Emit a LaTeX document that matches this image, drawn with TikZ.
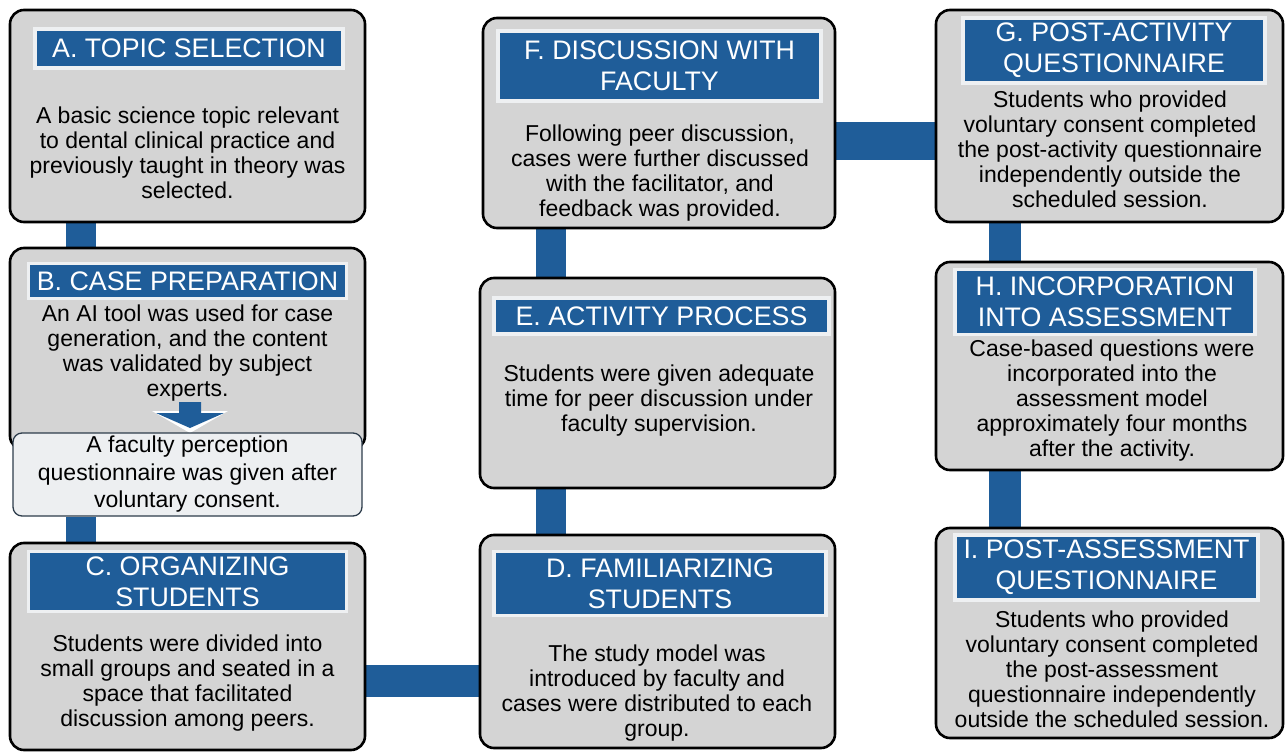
\documentclass[tikz,border=0pt]{standalone}
\usepackage{fontspec}
\setmainfont{Liberation Sans}
\usetikzlibrary{backgrounds}
\definecolor{flowblue}{RGB}{31,93,153}
\definecolor{stagegray}{RGB}{212,212,212}
\definecolor{hdredge}{RGB}{238,240,242}
\definecolor{notefill}{RGB}{237,239,241}
\definecolor{noteedge}{RGB}{45,60,75}

\begin{document}
\begin{tikzpicture}[x=1pt, y=-1pt,
  stage/.style={draw=black, line width=2.6pt, rounded corners=14pt, fill=stagegray, inner sep=0pt},
  hdr/.style={draw=hdredge, line width=3.5pt, fill=flowblue, text=white, align=center, inner sep=0pt, font=\fontsize{26.8}{31}\selectfont},
  txt/.style={align=center, inner sep=0pt, font=\fontsize{23}{25}\selectfont},
  note/.style={draw=noteedge, line width=1.3pt, fill=notefill, rounded corners=9pt, align=center, inner sep=0pt, font=\fontsize{23}{27.5}\selectfont},
  link/.style={draw=flowblue, line width=#1}, link/.default=30pt]
\useasboundingbox (0,0) rectangle (1285,754);

% left column
\node[stage, minimum width=355pt, minimum height=212pt] (A) at (187.5,116) {};
\node[hdr, minimum width=308pt, minimum height=39pt] (Ah) at (189,48.5) {A. TOPIC SELECTION};
\node[txt] (At) at (187.5,153) {A basic science topic relevant\\to dental clinical practice and\\previously taught in theory was\\selected.};

\node[stage, minimum width=355pt, minimum height=202pt] (B) at (187.5,349) {};
\node[hdr, minimum width=318pt, minimum height=35pt] (Bh) at (187.5,281) {B. CASE PREPARATION};
\node[txt] (Bt) at (187.5,353) {An AI tool was used for case\\generation, and the content\\was validated by subject\\experts.};
\coordinate (arrB) at (190,402);
\fill[white] ([shift={(-38,9)}]arrB) -- ++(76,0) -- ++(-38,22) -- cycle;
\fill[flowblue] ([shift={(-11,0)}]arrB) -- ++(22,0) -- ++(0,11) -- ++(23,0) -- ++(-34,15) -- ++(-34,-15) -- ++(23,0) -- cycle;
\node[note, minimum width=349pt, minimum height=83pt] (note) at (187.5,474.5) {A faculty perception\\questionnaire was given after\\voluntary consent.};

\node[stage, minimum width=355pt, minimum height=207pt] (C) at (187.5,646.5) {};
\node[hdr, minimum width=318pt, minimum height=60pt] (Ch) at (187.5,581.5) {C. ORGANIZING\\STUDENTS};
\node[txt] (Ct) at (187.5,683) {Students were divided into\\small groups and seated in a\\space that facilitated\\discussion among peers.};

% middle column, bottom to top
\node[stage, minimum width=355pt, minimum height=213pt] (D) at (657.5,641.5) {};
\node[hdr, minimum width=332pt, minimum height=64pt] (Dh) at (660,583.5) {D. FAMILIARIZING\\STUDENTS};
\node[txt] (Dt) at (657,693) {The study model was\\introduced by faculty and\\cases were distributed to each\\group.};

\node[stage, minimum width=355pt, minimum height=210pt] (E) at (657.5,383) {};
\node[hdr, minimum width=335pt, minimum height=36pt] (Eh) at (661.5,316) {E. ACTIVITY PROCESS};
\node[txt] (Et) at (659,401) {Students were given adequate\\time for peer discussion under\\faculty supervision.};

\node[stage, minimum width=352pt, minimum height=210pt] (F) at (659,123) {};
\node[hdr, minimum width=323pt, minimum height=70pt] (Fh) at (659.5,66) {F. DISCUSSION WITH\\FACULTY};
\node[txt] (Ft) at (660,173) {Following peer discussion,\\cases were further discussed\\with the facilitator, and\\feedback was provided.};

% right column
\node[stage, minimum width=347pt, minimum height=212pt] (G) at (1109.5,116) {};
\node[hdr, minimum width=302pt, minimum height=65pt] (Gh) at (1114,50.5) {G. POST-ACTIVITY\\QUESTIONNAIRE};
\node[txt] (Gt) at (1110,149) {Students who provided\\voluntary consent completed\\the post-activity questionnaire\\independently outside the\\scheduled session.};

\node[stage, minimum width=347pt, minimum height=208pt] (H) at (1109.5,366) {};
\node[hdr, minimum width=300pt, minimum height=65pt] (Hh) at (1105,302) {H. INCORPORATION\\INTO ASSESSMENT};
\node[txt] (Ht) at (1112,401) {Case-based questions were\\incorporated into the\\assessment model\\approximately four months\\after the activity.};

\node[stage, minimum width=347pt, minimum height=210pt] (I) at (1109.5,633) {};
\node[hdr, minimum width=303pt, minimum height=65pt] (Ih) at (1106.5,567.5) {I. POST-ASSESSMENT\\QUESTIONNAIRE};
\node[txt] (It) at (1112,669) {Students who provided\\voluntary consent completed\\the post-assessment\\questionnaire independently\\outside the scheduled session.};

% blue bars behind the boxes
\begin{pgfonlayer}{background}
\draw[link] ([xshift=72.5pt]A.south west) -- ([xshift=72.5pt]A.south west |- B.north);
\draw[link] ([xshift=72.5pt]C.north west) -- ([xshift=72.5pt]C.north west |- note.south);
\draw[link=32pt] ([yshift=-34.5pt]C.east) -- ([yshift=-34.5pt]C.east -| D.west);
\draw[link] ([xshift=72pt]D.north west) -- ([xshift=72pt]D.north west |- E.south);
\draw[link] ([xshift=72pt]E.north west) -- ([xshift=72pt]E.north west |- F.south);
\draw[link=38pt] ([yshift=-18pt]F.east) -- ([yshift=-18pt]F.east -| G.west);
\draw[link=32pt] ([xshift=70pt]G.south west) -- ([xshift=70pt]G.south west |- H.north);
\draw[link=32pt] ([xshift=70pt]H.south west) -- ([xshift=70pt]H.south west |- I.north);
\end{pgfonlayer}
\end{tikzpicture}
\end{document}
